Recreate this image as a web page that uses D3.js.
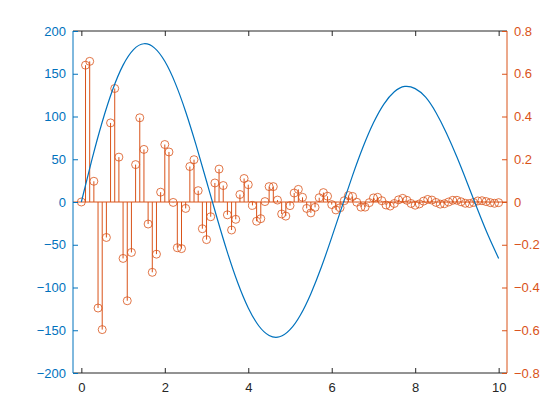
<!DOCTYPE html>
<html>
<head>
<meta charset="utf-8">
<script src="https://cdn.jsdelivr.net/npm/d3@7"></script>
<style>
  body { margin: 0; background: #fff; }
  svg { display: block; font-family: "Liberation Sans", Arial, sans-serif; }
</style>
</head>
<body>
<div class="visualization"></div>
<script>
// left series (line), sampled every 0.25
var lineX = [0, 0.25, 0.5, 0.75, 1, 1.25, 1.5, 1.75, 2, 2.25, 2.5, 2.75, 3, 3.25, 3.5, 3.75,
  4, 4.25, 4.5, 4.75, 5, 5.25, 5.5, 5.75, 6, 6.25, 6.5, 6.75, 7, 7.25, 7.5, 7.75,
  8, 8.25, 8.5, 8.75, 9, 9.25, 9.5, 9.75, 10];
var lineY = [0, 48.87, 93.52, 131.31, 160.09, 178.30, 185.08, 180.31, 164.55, 139.06, 105.63,
  66.52, 24.29, -18.39, -58.89, -94.77, -123.92, -144.73, -156.12, -157.61, -149.36,
  -132.13, -107.18, -76.37, -41.40, -4.86, 31.09, 64.22, 92.59, 114.55, 128.93,
  135.16, 132.64, 122.58, 104.41, 80.48, 52.56, 21.96, -9.35, -39.25, -65.99];

// right series (stems), every 0.1 from 0 to 10
var stemX = [0, 0.1, 0.2, 0.3, 0.4, 0.5, 0.6, 0.7, 0.8, 0.9,
  1, 1.1, 1.2, 1.3, 1.4, 1.5, 1.6, 1.7, 1.8, 1.9,
  2, 2.1, 2.2, 2.3, 2.4, 2.5, 2.6, 2.7, 2.8, 2.9,
  3, 3.1, 3.2, 3.3, 3.4, 3.5, 3.6, 3.7, 3.8, 3.9,
  4, 4.1, 4.2, 4.3, 4.4, 4.5, 4.6, 4.7, 4.8, 4.9,
  5, 5.1, 5.2, 5.3, 5.4, 5.5, 5.6, 5.7, 5.8, 5.9,
  6, 6.1, 6.2, 6.3, 6.4, 6.5, 6.6, 6.7, 6.8, 6.9,
  7, 7.1, 7.2, 7.3, 7.4, 7.5, 7.6, 7.7, 7.8, 7.9,
  8, 8.1, 8.2, 8.3, 8.4, 8.5, 8.6, 8.7, 8.8, 8.9,
  9, 9.1, 9.2, 9.3, 9.4, 9.5, 9.6, 9.7, 9.8, 9.9, 10];
var stemY = [0, 0.640, 0.658, 0.097, -0.496, -0.597, -0.166, 0.370, 0.531, 0.210,
  -0.264, -0.462, -0.236, 0.175, 0.394, 0.246, -0.103, -0.329, -0.244, 0.046,
  0.269, 0.234, -0.002, -0.214, -0.218, -0.030, 0.166, 0.198, 0.053, -0.125,
  -0.176, -0.069, 0.089, 0.154, 0.077, -0.060, -0.131, -0.081, 0.035, 0.110,
  0.081, -0.016, -0.090, -0.078, 0.002, 0.072, 0.072, 0.009, -0.056, -0.066,
  -0.017, 0.042, 0.059, 0.022, -0.030, -0.051, -0.025, 0.020, 0.044, 0.027,
  -0.012, -0.037, -0.027, 0.006, 0.030, 0.026, -0.001, -0.024, -0.024, -0.003,
  0.019, 0.022, 0.006, -0.014, -0.019, -0.007, 0.010, 0.017, 0.008, -0.007,
  -0.015, -0.009, 0.004, 0.012, 0.009, -0.002, -0.010, -0.008, 0.000, 0.008,
  0.008, 0.001, -0.006, -0.007, -0.002, 0.005, 0.006, 0.002, -0.003, -0.006, -0.003];

var xTicks = [0, 2, 4, 6, 8, 10];
var leftTicks = [-200, -150, -100, -50, 0, 50, 100, 150, 200];
var rightTicks = [-0.8, -0.6, -0.4, -0.2, 0, 0.2, 0.4, 0.6, 0.8];

var blue = "#0072BD";
var orange = "#D95319";
var width = 560, height = 420;
var box = {left: 73, right: 507, top: 31, bottom: 373};

var svg = d3.select(".visualization").append("svg")
    .attr("width", width)
    .attr("height", height);

var xScale = d3.scaleLinear().domain([-0.2, 10.2]).range([box.left, box.right]);
var yLeft = d3.scaleLinear().domain([-200, 200]).range([box.bottom, box.top]);
var yRight = d3.scaleLinear().domain([-0.8, 0.8]).range([box.bottom, box.top]);

var plot = svg.append("g");

// stems with baseline
var pts = stemX.map(function(x, i){ return {x: x, y: stemY[i]}; });
plot.append("line")
    .attr("x1", box.left).attr("x2", box.right)
    .attr("y1", yRight(0)).attr("y2", yRight(0))
    .attr("stroke", orange).attr("stroke-width", 1);
plot.selectAll(".stem").data(pts).enter().append("line")
    .attr("class", "stem")
    .attr("x1", function(d){ return xScale(d.x); })
    .attr("x2", function(d){ return xScale(d.x); })
    .attr("y1", yRight(0))
    .attr("y2", function(d){ return yRight(d.y); })
    .attr("stroke", orange).attr("stroke-width", 1);
plot.selectAll(".dot").data(pts).enter().append("circle")
    .attr("class", "dot")
    .attr("cx", function(d){ return xScale(d.x); })
    .attr("cy", function(d){ return yRight(d.y); })
    .attr("r", 4)
    .attr("fill", "none")
    .attr("stroke", orange).attr("stroke-width", 0.8);

// line
var line = d3.line()
    .x(function(d, i){ return xScale(lineX[i]); })
    .y(function(d){ return yLeft(d); })
    .curve(d3.curveNatural);
plot.append("path")
    .attr("d", line(lineY))
    .attr("fill", "none")
    .attr("stroke", blue)
    .attr("stroke-width", 1.2);

// x axes (bottom and top)
var xAxis = d3.axisBottom(xScale).tickValues(xTicks).tickSize(-5).tickPadding(10);
var gx = svg.append("g").attr("transform", "translate(0," + box.bottom + ")").call(xAxis);
var xTop = d3.axisTop(xScale).tickValues(xTicks).tickSize(-5).tickFormat("");
var gt = svg.append("g").attr("transform", "translate(0," + box.top + ")").call(xTop);
[gx, gt].forEach(function(g){
    g.select(".domain").attr("stroke", "#262626").attr("d", "M" + box.left + ",0H" + box.right);
    g.selectAll(".tick line").attr("stroke", "#262626");
});
gx.selectAll(".tick text").attr("fill", "#262626").style("font-size", "13px");

// left axis
var gl = svg.append("g").attr("transform", "translate(" + box.left + ",0)")
    .call(d3.axisLeft(yLeft).tickValues(leftTicks).tickSize(-5).tickPadding(7));
gl.select(".domain").attr("stroke", blue).attr("d", "M0," + box.top + "V" + box.bottom);
gl.selectAll(".tick line").attr("stroke", blue);
gl.selectAll(".tick text").attr("fill", blue).style("font-size", "13px");

// right axis
var gr = svg.append("g").attr("transform", "translate(" + box.right + ",0)")
    .call(d3.axisRight(yRight).tickValues(rightTicks).tickSize(-5).tickPadding(7)
      .tickFormat(function(d){ return d === 0 ? "0" : d3.format(".1f")(d); }));
gr.select(".domain").attr("stroke", orange).attr("d", "M0," + box.top + "V" + box.bottom);
gr.selectAll(".tick line").attr("stroke", orange);
gr.selectAll(".tick text").attr("fill", orange).style("font-size", "13px");
</script>
</body>
</html>
